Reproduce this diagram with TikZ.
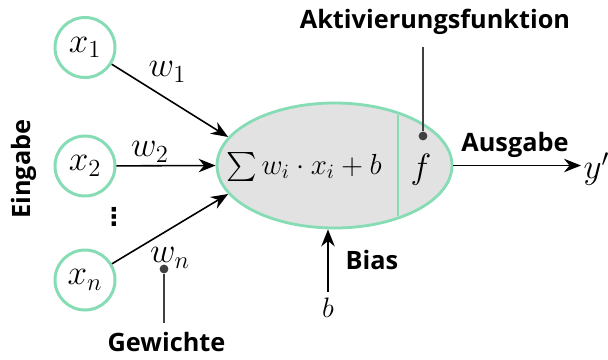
\RequirePackage{fix-cm}
\documentclass[tikz,border=0pt]{standalone}
\usepackage{amsmath,amssymb}
\usepackage{fontspec}
\setsansfont{Open Sans}
\newfontfamily\dotsfont{DejaVu Sans}
\usetikzlibrary{calc,arrows.meta,shapes.geometric}
\definecolor{mint}{RGB}{134,220,180}
\definecolor{cellgrey}{RGB}{226,226,226}
\tikzset{
  inp/.style={circle,draw=mint,line width=1.7pt,minimum size=1.2cm,inner sep=0pt,font=\fontsize{20}{24}\selectfont},
  mth/.style={font=\fontsize{20}{24}\selectfont},
  lbl/.style={font=\sffamily\bfseries\fontsize{14.4}{17}\selectfont},
  pin/.style={circle,fill=black!75,inner sep=0pt,minimum size=5pt},
}

\begin{document}
\begin{tikzpicture}[line width=0.9pt,>={Stealth[length=3.4mm,width=2.7mm]},color=black]
			\useasboundingbox (0,0) rectangle (12.16,7.18);
			\node[inp] (x1) at (1.70,6.23){$x_1$};
			\node[inp] (x2) at (1.70,3.86){$x_2$};
			\node[inp] (xn) at (1.70,1.58){$x_n$};
			\node[font=\dotsfont\bfseries\fontsize{14}{17}\selectfont] (dots) at (2.28,2.84){⋮};
			\node[lbl,rotate=90] (eing) at (0.48,3.80){Eingabe};
			\node[ellipse,draw=mint,fill=cellgrey,line width=1.6pt,minimum width=4.70cm,minimum height=2.50cm] (neuron) at (6.69,3.87){};
			\node[font=\fontsize{16.5}{19}\selectfont] (sum) at (6.08,3.84){$\sum w_i\cdot x_i+b$};
			\node[mth] (f) at (8.42,3.78){$f$};
			\draw[mint,line width=1pt] (7.96,2.86) -- (7.96,4.88);
			\node[mth] (w1) at (3.35,5.74){$w_1$};
			\node[mth] (w2) at (3.00,4.14){$w_2$};
			\node[mth] (wn) at (3.40,2.02){$w_n$};
			\draw[->] (x1) -- (neuron.165);
			\draw[->] (x2) -- (neuron.west);
			\draw[->] (xn) -- (neuron.195);
			\node[mth,anchor=west,inner sep=1pt] (y) at (11.62,3.80){$y'$};
			\draw[->] (neuron.east) -- (y.west |- neuron.east);
			\node[lbl] (out) at (10.30,4.28){Ausgabe};
			\node[lbl] (act) at (8.70,6.74){Aktivierungsfunktion};
			\node[pin] (actpin) at (8.46,4.46){};
			\coordinate (acttop) at (8.46,6.24);
			\draw[black!75] (actpin) -- (acttop);
			\node[font=\fontsize{16}{19}\selectfont] (b) at (6.56,1.02){$b$};
			\draw[->] (b) -- (b |- neuron.south);
			\node[lbl] (bias) at (7.44,1.98){Bias};
			\node[lbl] (gew) at (3.33,0.34){Gewichte};
			\node[pin] (wpin) at (3.28,1.80){};
			\coordinate (wbot) at (3.28,0.72);
			\draw[black!75] (wpin) -- (wbot);
		\end{tikzpicture}
\end{document}
